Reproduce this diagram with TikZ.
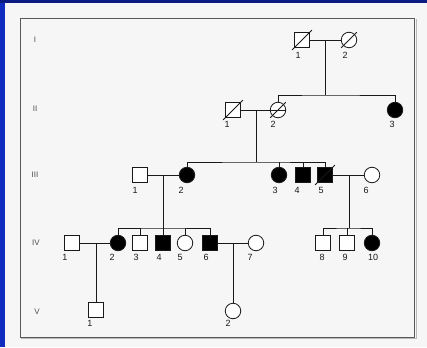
\documentclass[tikz,border=0pt]{standalone}
\usepackage{fontspec}
\setmainfont{Liberation Sans}
\usetikzlibrary{calc}
\definecolor{bgblue}{RGB}{10,28,130}
\definecolor{bgblueL}{RGB}{14,44,190}
\definecolor{paper}{RGB}{246,246,246}
\definecolor{ink}{RGB}{25,25,25}
\tikzset{
  sq/.style={draw=ink, rectangle, minimum size=15pt, inner sep=0pt, line width=0.8pt, fill=white},
  ci/.style={draw=ink, circle, minimum size=15.5pt, inner sep=0pt, line width=0.8pt, fill=white},
  aff/.style={fill=black},
  lbl/.style={font=\fontsize{9}{10}\selectfont, text=ink, inner sep=0pt},
  gen/.style={font=\fontsize{8}{9}\selectfont, text=gray!60!black, inner sep=0pt},
  ln/.style={draw=ink, line width=0.8pt},
}
\begin{document}
\begin{tikzpicture}[x=1pt,y=-1pt]
\useasboundingbox (0,0) rectangle (427,347);
\fill[bgblue] (0,0) rectangle (427,347);
\fill[bgblueL] (0,3) rectangle (5,347);
\fill[paper] (5,3) rectangle (427,347);
\draw[gray!70!black, line width=0.9pt] (20,18) rectangle (414,337);
\draw[gray!55, line width=0.6pt] (416,19) -- (416,338) -- (21,338);

% generation labels
\node[gen] (gI) at (35,40) {I};
\node[gen] (gII) at (35,109) {II};
\node[gen] (gIII) at (35,175) {III};
\node[gen] (gIV) at (36,243) {IV};
\node[gen] (gV) at (37,312) {V};

% generation I
\node[sq] (I1) at (302,40) {};
\node[ci] (I2) at (349,40) {};
% generation II
\node[sq] (II1) at (233,110) {};
\node[ci] (II2) at (278,110) {};
\node[ci,aff] (II3) at (395,110) {};
% generation III
\node[sq] (III1) at (140,175) {};
\node[ci,aff] (III2) at (187,175) {};
\node[ci,aff] (III3) at (279,175) {};
\node[sq,aff] (III4) at (303,175) {};
\node[sq,aff] (III5) at (325,175) {};
\node[ci] (III6) at (372,175) {};
% generation IV
\node[sq] (IV1) at (72,243) {};
\node[ci,aff] (IV2) at (118,243) {};
\node[sq] (IV3) at (140,243) {};
\node[sq,aff] (IV4) at (163,243) {};
\node[ci] (IV5) at (185,243) {};
\node[sq,aff] (IV6) at (210,243) {};
\node[ci] (IV7) at (256,243) {};
\node[sq] (IV8) at (323,243) {};
\node[sq] (IV9) at (347,243) {};
\node[ci,aff] (IV10) at (372,243) {};
% generation V
\node[sq] (V1) at (96,310) {};
\node[ci] (V2) at (233,311) {};

% deceased slashes
\foreach \n in {I1,II1,III5}{
  \draw[ln] ($(\n.south west)+(-2pt,-2pt)$) -- ($(\n.north east)+(2pt,2pt)$);
}
\foreach \n in {I2,II2}{
  \draw[ln] ($(\n.225)+(-2pt,-2pt)$) -- ($(\n.45)+(2pt,2pt)$);
}
\draw[ln] (II2.west) -- (II2.east);

% labels
\node[lbl] (lI1) at (298,55) {1};
\node[lbl] (lI2) at (345,55) {2};
\node[lbl] (lII1) at (227,124) {1};
\node[lbl] (lII2) at (273,124) {2};
\node[lbl] (lII3) at (392,124) {3};
\node[lbl] (lIII1) at (135,190) {1};
\node[lbl] (lIII2) at (181,190) {2};
\node[lbl] (lIII3) at (275,190) {3};
\node[lbl] (lIII4) at (297,190) {4};
\node[lbl] (lIII5) at (321,190) {5};
\node[lbl] (lIII6) at (366,190) {6};
\node[lbl] (lIV1) at (65,257) {1};
\node[lbl] (lIV2) at (112,257) {2};
\node[lbl] (lIV3) at (136,257) {3};
\node[lbl] (lIV4) at (159,257) {4};
\node[lbl] (lIV5) at (180,257) {5};
\node[lbl] (lIV6) at (206,257) {6};
\node[lbl] (lIV7) at (250,257) {7};
\node[lbl] (lIV8) at (322,257) {8};
\node[lbl] (lIV9) at (345,257) {9};
\node[lbl] (lIV10) at (373,257) {10};
\node[lbl] (lV1) at (90,323) {1};
\node[lbl] (lV2) at (228,323) {2};

% junction coordinates
\coordinate (m1) at (325,40);
\coordinate (s1) at (325,95);
\coordinate (m2) at (256,110);
\coordinate (s2) at (256,162);
\coordinate (m3) at (163,175);
\coordinate (s3) at (163,228);
\coordinate (m4) at (349,175);
\coordinate (s4) at (349,228);
\coordinate (m5) at (96,243);
\coordinate (m6) at (233,243);

% generation I family
\draw[ln] (I1.east) -- (I2.west);
\draw[ln] (m1) -- (s1);
\draw[ln] (II2.north) |- (s1) -| (II3.north);
% generation II family
\draw[ln] (II1.east) -- (II2.west);
\draw[ln] (m2) -- (s2);
\draw[ln] (III2.north) |- (s2) -| (III5.north);
\draw[ln] (III3.north) -- (III3.north |- s2);
\draw[ln] (III4.north) -- (III4.north |- s2);
% generation III families
\draw[ln] (III1.east) -- (III2.west);
\draw[ln] (m3) -- (s3);
\draw[ln] (IV2.north) |- (s3) -| (IV6.north);
\draw[ln] (IV3.north) -- (IV3.north |- s3);
\draw[ln] (IV4.north) -- (IV4.north |- s3);
\draw[ln] (IV5.north) -- (IV5.north |- s3);
\draw[ln] (III5.east) -- (III6.west);
\draw[ln] (m4) -- (s4);
\draw[ln] (IV8.north) |- (s4) -| (IV10.north);
\draw[ln] (IV9.north) -- (IV9.north |- s4);
% generation IV families
\draw[ln] (IV1.east) -- (IV2.west);
\draw[ln] (m5) -- (V1.north);
\draw[ln] (IV6.east) -- (IV7.west);
\draw[ln] (m6) -- (V2.north);
\end{tikzpicture}
\end{document}
